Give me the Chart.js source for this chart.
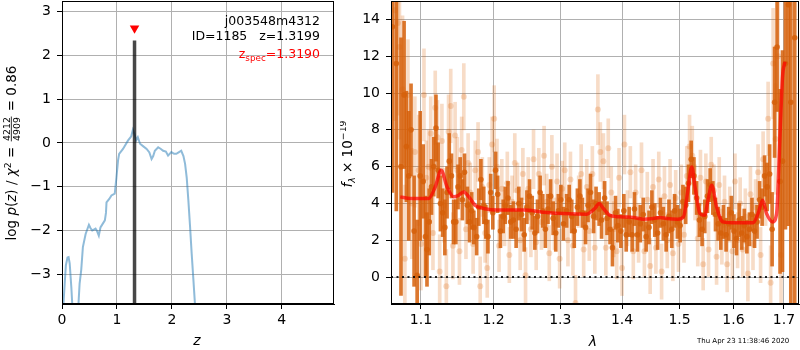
<!DOCTYPE html>
<html>
<head>
<meta charset="utf-8">
<script src="https://cdn.jsdelivr.net/npm/chart.js@4.4.0/dist/chart.umd.min.js"></script>
<style>
  body { margin: 0; background: #fff; }
  #wrap { position: relative; width: 800px; height: 350px; }
  #pz { position: absolute; left: 0; top: 0; }
  #spec { position: absolute; left: 340px; top: 0; }
</style>
</head>
<body>
<div id="wrap">
  <canvas id="pz" width="340" height="350"></canvas>
  <canvas id="spec" width="460" height="350"></canvas>
</div>
<script>
// --- left panel: log p(z)
var pzZ = [0.00,0.03,0.07,0.10,0.12,0.14,0.17,0.20,0.24,0.29,0.32,0.35,0.38,0.43,0.49,0.52,0.55,0.58,0.61,0.64,
  0.67,0.70,0.74,0.78,0.80,0.81,0.86,0.90,0.96,0.99,1.02,1.04,1.11,1.20,1.26,1.29,1.32,1.35,1.38,1.42,
  1.48,1.54,1.59,1.63,1.66,1.69,1.75,1.80,1.84,1.89,1.93,1.99,2.04,2.08,2.13,2.17,2.21,2.24,2.27,2.30,
  2.33,2.36,2.39,2.42,2.46];
var pzLog = [-4.6,-3.6,-2.8,-2.62,-2.61,-2.75,-3.3,-4.0,-4.4,-3.9,-3.22,-2.9,-2.38,-2.08,-1.87,-1.95,-2.00,-1.98,-1.96,-2.02,
  -2.12,-1.93,-1.85,-1.77,-1.60,-1.36,-1.28,-1.20,-1.16,-0.80,-0.40,-0.25,-0.14,0.05,0.15,0.30,0.20,0.06,0.13,-0.02,
  -0.08,-0.14,-0.22,-0.37,-0.30,-0.18,-0.10,-0.14,-0.18,-0.20,-0.29,-0.21,-0.25,-0.25,-0.21,-0.18,-0.30,-0.48,-0.80,-1.32,
  -1.90,-2.53,-3.1,-3.69,-4.4];
var zBest = 1.3199;
var zBarTop = 2.34;
var zMarkerY = 2.62;
var pzXRange = [0, 4.95];
var pzYRange = [-3.68, 3.24];
var pzXTicks = [0, 1, 2, 3, 4];
var pzYTicks = [-3, -2, -1, 0, 1, 2, 3];

// --- right panel: spectrum
var darkWave = [1.063,1.068,1.074,1.078,1.081,1.084,1.087,1.091,1.095,1.099,
  1.103,1.106,1.108,1.111,1.114,1.117,1.120,1.123,1.126,1.129,
  1.132,1.135,1.138,1.141,1.144,1.147,1.150,1.153,1.156,1.159,
  1.163,1.166,1.169,1.172,1.176,1.179,1.182,1.186,1.189,1.192,
  1.196,1.199,1.203,1.206,1.210,1.214,1.217,1.221,1.225,1.229,
  1.233,1.237,1.241,1.245,1.249,1.253,1.257,1.261,1.265,1.269,
  1.273,1.277,1.281,1.285,1.289,1.293,1.297,1.301,1.305,1.310,
  1.314,1.318,1.322,1.327,1.331,1.335,1.340,1.344,1.348,1.353,
  1.357,1.362,1.366,1.371,1.375,1.380,1.384,1.389,1.393,1.398,
  1.403,1.407,1.412,1.417,1.421,1.426,1.431,1.436,1.441,1.446,
  1.451,1.456,1.461,1.466,1.471,1.476,1.481,1.486,1.491,1.496,
  1.501,1.506,1.511,1.516,1.521,1.526,1.531,1.536,1.541,1.546,
  1.551,1.556,1.561,1.566,1.571,1.576,1.581,1.586,1.591,1.596,
  1.601,1.606,1.611,1.616,1.621,1.626,1.631,1.636,1.641,1.646,
  1.651,1.656,1.661,1.666,1.671,1.676,1.681,1.686,1.692,1.697,
  1.703,1.709,1.714,1.722];
var darkFlux = [13.6,11.6,6.0,9.9,7.1,5.5,8.0,2.5,0.1,5.5,
  5.2,2.2,1.5,3.0,4.9,6.0,8.1,5.8,4.0,3.5,
  2.7,4.6,6.3,5.5,3.0,3.0,4.9,5.5,4.2,5.7,
  3.9,3.0,3.6,2.7,2.2,3.8,5.3,3.9,3.0,2.2,
  4.6,3.5,5.8,4.5,2.5,3.3,3.9,4.3,3.0,3.1,
  2.6,4.0,3.4,2.3,3.8,4.4,3.5,2.4,3.3,4.6,
  3.6,2.6,3.7,4.4,3.2,2.4,3.6,4.2,2.9,3.6,
  4.2,3.3,2.5,3.8,4.4,3.5,2.7,3.9,4.6,3.3,
  4.0,3.7,3.1,4.3,3.2,2.6,1.6,3.5,2.8,2.5,
  3.6,2.3,3.0,2.3,3.7,2.3,2.9,3.4,2.2,2.7,
  3.8,3.1,2.4,3.5,2.9,2.3,3.3,2.6,3.6,3.0,
  2.8,4.1,3.9,5.1,6.4,5.5,4.3,3.1,2.6,3.3,
  4.4,5.0,4.3,3.4,2.9,2.4,3.0,2.3,2.9,3.5,
  2.5,2.1,3.1,2.4,2.8,2.2,2.6,3.4,2.5,3.0,
  4.2,3.8,5.5,4.9,5.6,2.6,9.5,12.5,5.2,6.3,
  11.6,14.8,9.5,13.0];
var darkErr = [9,8,7,4,3,3.5,2.5,3,3,3.5,
  2,2.2,2,1.8,1.5,1.6,1.8,1.5,1.5,1.3,
  1.5,1.4,1.5,1.2,1.2,1.2,1.2,1.0,1.1,1.0,
  1.0,1.1,1.0,0.9,1.0,1.0,1.1,1.0,0.9,0.9,
  1.0,0.9,1.0,1.0,0.9,0.9,1.0,0.9,0.9,1.0,
  1.0,0.9,0.9,0.9,0.9,0.9,0.9,0.9,0.9,0.9,
  0.9,1.0,0.8,0.9,0.9,1.0,0.9,0.8,0.9,0.9,
  0.8,0.9,0.9,1.0,0.9,0.8,0.9,0.9,1.0,0.9,
  0.9,0.9,1.0,0.9,0.9,0.8,1.0,0.9,0.9,0.9,
  0.9,0.9,0.8,0.9,0.9,0.9,1.0,0.9,0.8,0.9,
  0.9,0.9,0.9,0.8,0.9,0.9,0.9,1.0,0.9,0.9,
  0.9,0.9,1.0,1.0,1.0,1.0,0.9,0.9,0.9,0.9,
  0.9,0.9,0.9,0.9,0.9,0.9,0.9,0.9,0.9,0.9,
  0.9,0.9,0.9,0.9,0.9,0.9,0.9,0.9,0.9,0.9,
  1.0,1.0,1.1,1.3,1.6,2.0,3.0,3.5,5,6,
  9,12,12,15];

var lightWave = [1.066,1.070,1.072,1.076,1.079,1.083,1.088,1.092,1.097,1.100,
  1.104,1.107,1.110,1.113,1.116,1.119,1.122,1.125,1.128,1.131,
  1.134,1.137,1.140,1.143,1.146,1.149,1.152,1.155,1.158,1.161,
  1.164,1.167,1.171,1.174,1.178,1.181,1.184,1.188,1.191,1.194,
  1.198,1.201,1.205,1.208,1.212,1.216,1.220,1.223,1.227,1.231,
  1.235,1.239,1.243,1.247,1.251,1.255,1.259,1.263,1.267,1.271,
  1.275,1.279,1.283,1.287,1.291,1.295,1.299,1.303,1.307,1.312,
  1.316,1.320,1.324,1.329,1.333,1.337,1.342,1.346,1.351,1.355,
  1.360,1.364,1.369,1.373,1.377,1.382,1.386,1.391,1.395,1.400,
  1.404,1.409,1.414,1.419,1.423,1.428,1.433,1.438,1.443,1.448,
  1.453,1.458,1.463,1.468,1.473,1.478,1.483,1.488,1.493,1.498,
  1.503,1.508,1.513,1.518,1.523,1.528,1.533,1.538,1.543,1.548,
  1.553,1.558,1.563,1.568,1.573,1.578,1.583,1.588,1.593,1.598,
  1.603,1.608,1.613,1.618,1.623,1.628,1.633,1.638,1.643,1.648,
  1.653,1.658,1.663,1.668,1.673,1.678,1.683,1.688,1.694];
var lightFlux = [14.5,13.8,12.5,10.2,1.0,9.9,4.0,6.8,5.8,1.8,
  9.9,5.4,6.0,7.8,2.4,9.2,7.6,0.3,7.4,3.9,
  -0.5,7.9,9.3,1.7,7.7,5.8,1.4,6.9,9.8,2.6,
  6.2,4.6,1.8,5.8,6.8,-0.5,4.9,2.4,0.5,5.0,
  7.2,8.6,6.0,1.7,4.8,3.2,5.1,1.2,4.1,6.2,
  4.7,2.0,5.6,0.1,4.8,2.6,6.4,1.9,5.6,3.0,
  6.6,4.1,1.3,6.0,2.9,5.2,1.0,4.8,5.8,2.0,
  5.3,1.7,-1.4,4.1,5.6,1.5,4.9,2.5,5.6,1.6,
  9.1,6.8,6.3,1.6,7.0,4.6,2.6,1.4,5.4,0.5,
  7.2,3.2,5.7,1.4,4.6,2.4,5.8,1.4,4.2,0.6,
  4.9,1.6,5.3,0.3,4.4,2.0,5.0,1.3,4.3,1.8,
  4.6,2.3,5.5,7.1,6.6,4.6,2.1,5.4,0.7,5.2,
  1.5,6.1,4.7,1.1,5.0,2.2,4.1,0.7,3.4,1.4,
  5.2,2.0,4.0,1.5,3.3,0.2,4.5,1.8,3.8,5.7,
  1.2,6.4,4.3,8.6,-0.3,11.6,7.5,12.0,1.2];
var lightErr = [6,5,5,4,4,3,3,3,3,2.5,
  2.5,2,2,2,2,2,2,2,2,2,
  2,2,2,1.8,1.8,1.8,1.8,1.8,1.8,1.6,
  1.6,1.6,1.6,1.6,1.6,1.6,1.6,1.6,1.6,1.5,
  1.5,1.8,1.5,1.4,1.6,1.5,1.7,1.5,1.4,1.6,
  1.5,1.6,1.4,1.5,1.7,1.5,1.6,1.5,1.4,1.5,
  1.6,1.5,1.5,1.7,1.4,1.5,1.6,1.5,1.5,1.4,
  1.5,1.6,1.5,1.4,1.6,1.5,1.5,1.6,1.5,1.4,
  1.9,1.6,1.5,1.5,1.6,1.4,1.5,1.5,1.6,1.5,
  1.6,1.5,1.4,1.5,1.5,1.6,1.5,1.4,1.5,1.5,
  1.5,1.4,1.5,1.5,1.6,1.5,1.4,1.5,1.5,1.5,
  1.5,1.5,1.6,1.7,1.6,1.5,1.5,1.5,1.4,1.5,
  1.5,1.5,1.4,1.5,1.5,1.5,1.4,1.5,1.5,1.5,
  1.5,1.5,1.4,1.5,1.5,1.5,1.5,1.4,1.5,1.5,
  1.5,1.5,1.5,2,2,3,3,3,4];

var modelWave = [1.073,1.086,1.110,1.119,1.127,1.135,1.144,1.151,1.158,1.165,1.174,1.186,1.205,1.244,1.279,1.305,
  1.342,1.355,1.362,1.369,1.380,1.402,1.419,1.436,1.453,1.465,1.477,1.497,1.507,1.515,1.522,1.528,1.537,
  1.546,1.552,1.559,1.568,1.580,1.606,1.638,1.648,1.657,1.665,1.677,1.685,1.692,1.697,1.702];
var modelFlux = [4.36,4.27,4.27,4.9,5.8,4.9,4.36,4.45,4.63,4.36,3.9,3.73,3.64,3.64,3.51,3.45,
  3.42,3.73,4.0,3.73,3.36,3.27,3.24,3.15,3.18,3.24,3.18,3.15,3.27,4.72,5.98,4.9,3.45,
  3.36,4.18,4.99,3.81,3.0,2.95,2.95,3.45,4.18,3.45,3.0,3.45,7.8,10.87,11.7];

var specXRange = [1.0612, 1.7309];
var specYRange = [-1.46, 15.0];
var specXTicks = [1.1, 1.2, 1.3, 1.4, 1.5, 1.6, 1.7];
var specYTicks = [0, 2, 4, 6, 8, 10, 12, 14];

var FONT = "DejaVu Sans";
Chart.defaults.font.family = FONT;
Chart.defaults.color = "#000";

function fontFor(kind, size) {
  if (kind === "i") return "italic " + size + "px " + FONT;
  if (kind === "s") return (size * 0.7).toFixed(1) + "px " + FONT;
  if (kind === "si") return "italic " + (size * 0.7).toFixed(1) + "px " + FONT;
  return size + "px " + FONT;
}

// draws a row of text pieces: [text, kind, dy]
function drawMath(ctx, parts, size, x, y, align) {
  var widths = [];
  var total = 0;
  for (var i = 0; i < parts.length; i++) {
    var p = parts[i];
    var w;
    if (p[1] === "frac") {
      ctx.font = fontFor("s", size);
      var nd = p[0].split("/");
      w = Math.max(ctx.measureText(nd[0]).width, ctx.measureText(nd[1]).width) + 3;
    } else {
      ctx.font = fontFor(p[1], size);
      w = ctx.measureText(p[0]).width;
    }
    widths.push(w);
    total += w;
  }
  var cx = x;
  if (align === "center") cx = x - total / 2;
  if (align === "right") cx = x - total;
  ctx.textBaseline = "alphabetic";
  for (var j = 0; j < parts.length; j++) {
    var q = parts[j];
    if (q[1] === "frac") {
      var parts2 = q[0].split("/");
      var bar = y - size * 0.35;
      ctx.font = fontFor("s", size);
      ctx.textAlign = "center";
      ctx.fillText(parts2[0], cx + widths[j] / 2, bar - 1.5);
      ctx.fillText(parts2[1], cx + widths[j] / 2, bar + 1.5 + size * 0.7 * 0.73);
      ctx.fillRect(cx + 1, bar - 0.4, widths[j] - 2, 0.8);
      ctx.textAlign = "left";
    } else {
      ctx.font = fontFor(q[1], size);
      ctx.textAlign = "left";
      ctx.fillText(q[0], cx, y + (q[2] || 0));
    }
    cx += widths[j];
  }
}

var framePlugin = {
  id: "frame",
  afterDraw: function(chart) {
    var a = chart.chartArea;
    var ctx = chart.ctx;
    ctx.save();
    ctx.strokeStyle = "#000";
    ctx.lineWidth = 1;
    ctx.strokeRect(Math.round(a.left) + 0.5, Math.round(a.top) + 0.5,
      Math.round(a.right - a.left) - 1, Math.round(a.bottom - a.top) - 1);
    ctx.restore();
  }
};

function minusTick(v) {
  return String(v).replace("-", "\u2212");
}

// keep the plot box where the reference has it
function fixX(s) {
  s.height = 46;
  s.paddingLeft = 0;
  s.paddingRight = 0;
}
function fixYLeft(s) {
  s.width = 62;
  s.paddingTop = 0;
  s.paddingBottom = 0;
}
function fixYRight(s) {
  s.width = 51;
  s.paddingTop = 0;
  s.paddingBottom = 0;
}

// ---- left chart
var pzTexts = {
  id: "pzTexts",
  afterDraw: function(chart) {
    var ctx = chart.ctx;
    ctx.save();
    ctx.fillStyle = "#000";
    ctx.font = "12.5px " + FONT;
    ctx.textAlign = "right";
    ctx.fillText("j003548m4312", 320, 25);
    ctx.fillText("ID=1185   z=1.3199", 320, 40);
    ctx.fillStyle = "#ff0000";
    drawMath(ctx, [["z", "n"], ["spec", "s", 3], ["=1.3190", "n"]], 12.5, 320, 58, "right");
    ctx.fillStyle = "#000";
    ctx.font = "italic 14px " + FONT;
    ctx.textAlign = "center";
    ctx.fillText("z", 197, 345);
    ctx.translate(16, 153);
    ctx.rotate(-Math.PI / 2);
    drawMath(ctx, [["log ", "n"], ["p", "i"], ["(", "n"], ["z", "i"], [") / ", "n"], ["\u03c7", "i"],
      ["2", "s", -5.5], [" = ", "n"], ["4212/4909", "frac"], [" = 0.86", "n"]], 13.5, 0, 0, "center");
    ctx.restore();
  }
};

new Chart(document.getElementById("pz"), {
  type: "line",
  data: {
    datasets: [
      {
        data: [{ x: zBest, y: zMarkerY }],
        type: "scatter",
        pointStyle: "triangle",
        rotation: 180,
        pointRadius: 5.5,
        backgroundColor: "#ff0000",
        borderWidth: 0,
        order: 0
      },
      {
        data: [{ x: zBest, y: pzYRange[0] }, { x: zBest, y: zBarTop }],
        borderColor: "rgba(0,0,0,0.72)",
        borderWidth: 3.5,
        borderCapStyle: "butt",
        pointRadius: 0,
        order: 1
      },
      {
        data: pzZ.map(function(z, i) { return { x: z, y: pzLog[i] }; }),
        borderColor: "rgba(31,119,180,0.5)",
        borderWidth: 2,
        pointRadius: 0,
        tension: 0,
        order: 2
      }
    ]
  },
  options: {
    responsive: false,
    animation: false,
    events: [],
    layout: { autoPadding: false, padding: { top: 1, right: 6, left: 0, bottom: 0 } },
    plugins: { legend: { display: false }, tooltip: { enabled: false } },
    scales: {
      x: {
        type: "linear",
        min: pzXRange[0],
        max: pzXRange[1],
        afterBuildTicks: function(s) { s.ticks = pzXTicks.map(function(v) { return { value: v }; }); },
        afterFit: fixX,
        grid: { color: "#b0b0b0", tickColor: "#000", tickLength: 5, lineWidth: 1 },
        border: { color: "#000" },
        ticks: { font: { size: 14 }, padding: 3, maxRotation: 0, autoSkip: false, callback: minusTick }
      },
      y: {
        type: "linear",
        min: pzYRange[0],
        max: pzYRange[1],
        afterBuildTicks: function(s) { s.ticks = pzYTicks.map(function(v) { return { value: v }; }); },
        afterFit: fixYLeft,
        grid: { color: "#b0b0b0", tickColor: "#000", tickLength: 5, lineWidth: 1 },
        border: { color: "#000" },
        ticks: { font: { size: 14 }, padding: 6, autoSkip: false, callback: minusTick }
      }
    }
  },
  plugins: [framePlugin, pzTexts]
});

// ---- right chart
var specTexts = {
  id: "specTexts",
  afterDraw: function(chart) {
    var ctx = chart.ctx;
    ctx.save();
    ctx.fillStyle = "#000";
    ctx.font = "italic 14px " + FONT;
    ctx.textAlign = "center";
    ctx.fillText("\u03bb", 253, 346);
    ctx.font = "7px " + FONT;
    ctx.textAlign = "left";
    ctx.fillText("Thu Apr 23 11:38:46 2020", 357, 343);
    ctx.translate(12, 154);
    ctx.rotate(-Math.PI / 2);
    drawMath(ctx, [["f", "i"], ["\u03bb", "si", 3], [" \u00d7 10", "n"], ["\u221219", "s", -6]], 13.5, 0, 0, "center");
    ctx.restore();
  }
};

var darkColor = "rgba(214,96,10,0.85)";
var lightColor = "rgba(217,95,2,0.22)";

function toBars(wave, flux, err) {
  return wave.map(function(w, i) { return { x: w, y: [flux[i] - err[i], flux[i] + err[i]] }; });
}
function toPoints(wave, flux) {
  return wave.map(function(w, i) { return { x: w, y: flux[i] }; });
}

new Chart(document.getElementById("spec"), {
  type: "line",
  data: {
    datasets: [
      {
        data: toPoints(modelWave, modelFlux),
        borderColor: "rgba(255,0,0,0.7)",
        borderWidth: 3.5,
        pointRadius: 0,
        cubicInterpolationMode: "monotone",
        order: 0
      },
      {
        data: [{ x: specXRange[0], y: 0 }, { x: specXRange[1], y: 0 }],
        borderColor: "rgba(0,0,0,0.85)",
        borderWidth: 2,
        borderDash: [2, 3.5],
        pointRadius: 0,
        order: 1
      },
      {
        type: "scatter",
        data: toPoints(darkWave, darkFlux),
        pointRadius: 2.8,
        backgroundColor: darkColor,
        borderWidth: 0,
        order: 2
      },
      {
        type: "bar",
        data: toBars(darkWave, darkFlux, darkErr),
        backgroundColor: darkColor,
        barThickness: 3,
        grouped: false,
        borderWidth: 0,
        order: 3
      },
      {
        type: "scatter",
        data: toPoints(lightWave, lightFlux),
        pointRadius: 3,
        backgroundColor: lightColor,
        borderWidth: 0,
        order: 4
      },
      {
        type: "bar",
        data: toBars(lightWave, lightFlux, lightErr),
        backgroundColor: lightColor,
        barThickness: 3,
        grouped: false,
        borderWidth: 0,
        order: 5
      }
    ]
  },
  options: {
    responsive: false,
    animation: false,
    events: [],
    layout: { autoPadding: false, padding: { top: 1, right: 1, left: 0, bottom: 0 } },
    plugins: { legend: { display: false }, tooltip: { enabled: false } },
    scales: {
      x: {
        type: "logarithmic",
        min: specXRange[0],
        max: specXRange[1],
        offset: false,
        afterBuildTicks: function(s) { s.ticks = specXTicks.map(function(v) { return { value: v }; }); },
        afterFit: fixX,
        grid: { color: "#b0b0b0", tickColor: "#000", tickLength: 5, lineWidth: 1, offset: false },
        border: { color: "#000" },
        ticks: { font: { size: 14 }, padding: 3, maxRotation: 0, autoSkip: false,
          callback: function(v) { return Number(v).toFixed(1); } }
      },
      y: {
        type: "linear",
        min: specYRange[0],
        max: specYRange[1],
        afterBuildTicks: function(s) { s.ticks = specYTicks.map(function(v) { return { value: v }; }); },
        afterFit: fixYRight,
        grid: { color: "#b0b0b0", tickColor: "#000", tickLength: 5, lineWidth: 1 },
        border: { color: "#000" },
        ticks: { font: { size: 14 }, padding: 6, autoSkip: false, callback: minusTick }
      }
    }
  },
  plugins: [framePlugin, specTexts]
});
</script>
</body>
</html>
